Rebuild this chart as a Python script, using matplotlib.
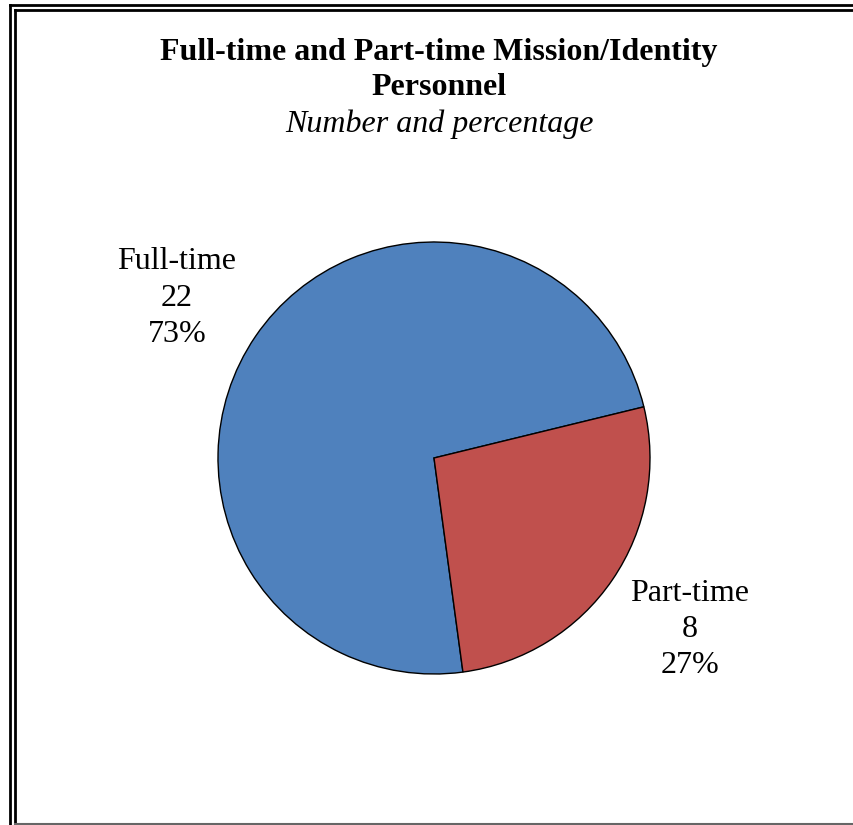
import matplotlib
matplotlib.use("Agg")
import matplotlib.pyplot as plt
from matplotlib.lines import Line2D

categories = ["Full-time", "Part-time"]
counts = [22, 8]
colors = ["#4F81BD", "#C0504D"]

plt.rcParams['font.family'] = ['Liberation Serif', 'DejaVu Serif']

W, H = 854, 825
fig = plt.figure(figsize=(W / 100, H / 100), dpi=100)

cx, cy, r = 434, 458, 216
ax = fig.add_axes([(cx - r) / W, (H - cy - r) / H, 2 * r / W, 2 * r / H])
total = sum(counts)
labels = [f"{c}\n{v}\n{round(100 * v / total)}%" for c, v in zip(categories, counts)]
wedges, texts = ax.pie(counts, colors=colors, startangle=13.7, counterclock=True,
                       labels=labels, labeldistance=1.41,
                       wedgeprops=dict(edgecolor="black", linewidth=1.0),
                       textprops=dict(fontsize=23, linespacing=1.33))
label_pos = [(-1.19, 0.74), (1.185, -0.793)]
for t, p in zip(texts, label_pos):
    t.set_ha("center")
    t.set_va("center")
    t.set_position(p)
ax.set_xlim(-1, 1)
ax.set_ylim(-1, 1)

fig.text(439 / W, 1 - 70 / H, "Full-time and Part-time Mission/Identity\nPersonnel",
         ha="center", va="center", fontsize=23, fontweight="bold", linespacing=1.28)
fig.text(439 / W, 1 - 124 / H, "Number and percentage", ha="center", va="center",
         fontsize=23, style="italic")

# double border
def hline(y, x0, x1, lw, color="black"):
    fig.add_artist(Line2D([x0 / W, x1 / W], [1 - y / H, 1 - y / H], color=color, lw=lw,
                          transform=fig.transFigure))

def vline(x, y0, y1, lw, color="black"):
    fig.add_artist(Line2D([x / W, x / W], [1 - y0 / H, 1 - y1 / H], color=color, lw=lw,
                          transform=fig.transFigure))

hline(5, 10.5, W, 2.0)
hline(10, 15.5, W, 2.0)
vline(10.5, 5, H, 2.0)
vline(15.5, 10, H, 2.0)
hline(824, 15.5, W, 1.5, color="#666666")

fig.savefig("out.png", dpi=100)
